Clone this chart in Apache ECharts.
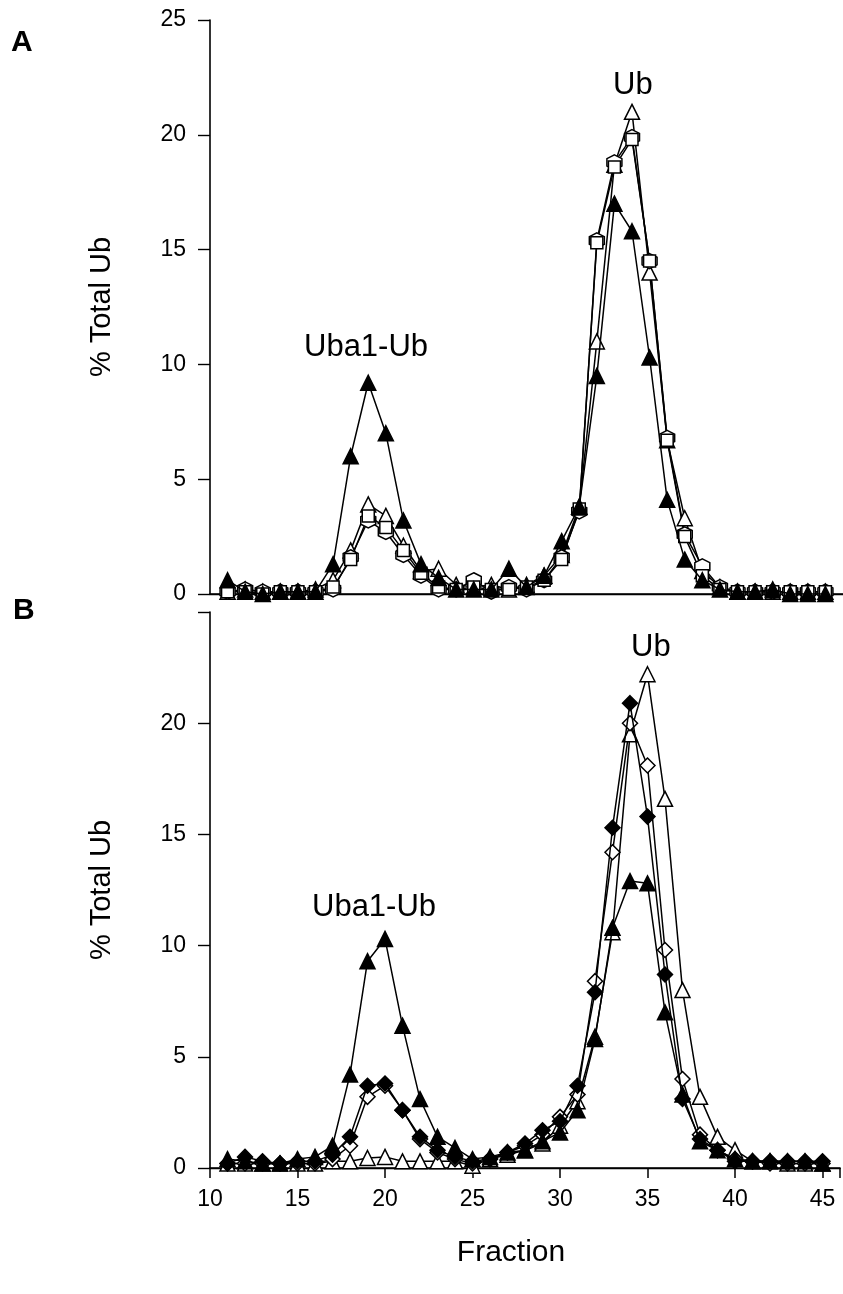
<!DOCTYPE html>
<html>
<head>
<meta charset="utf-8">
<script src="https://cdn.jsdelivr.net/npm/echarts@6/dist/echarts.min.js"></script>
<style>
  html, body { margin: 0; padding: 0; background: #fff; }
  #chart { width: 843px; height: 1294px; }
</style>
</head>
<body>
<div id="chart"></div>
<script>
// fractions 11..45
const fractions = [11,12,13,14,15,16,17,18,19,20,21,22,23,24,25,26,27,28,29,30,31,32,33,34,35,36,37,38,39,40,41,42,43,44,45]
const yTicks = [0, 5, 10, 15, 20, 25]

// panel A
const aFilledTri = [0.6,0.1,0.0,0.1,0.1,0.1,1.3,6.0,9.2,7.0,3.2,1.3,0.7,0.2,0.2,0.2,1.1,0.3,0.8,2.3,3.8,9.5,17.0,15.8,10.3,4.1,1.5,0.6,0.2,0.1,0.1,0.2,0.0,0.0,0.0]
const aOpenTri   = [0.1,0.2,0.1,0.1,0.1,0.2,0.6,1.9,3.9,3.4,2.1,1.0,1.1,0.4,0.3,0.4,0.2,0.4,0.8,1.7,3.8,11.0,18.7,21.0,14.0,6.7,3.3,1.0,0.3,0.1,0.1,0.1,0.1,0.1,0.1]
const aHexagon   = [0.1,0.2,0.1,0.1,0.1,0.1,0.2,1.6,3.2,2.7,1.7,0.8,0.2,0.2,0.6,0.1,0.3,0.2,0.6,1.6,3.6,15.4,18.8,19.9,14.5,6.8,2.6,1.2,0.3,0.1,0.1,0.1,0.1,0.1,0.1]
const aSquare    = [0.1,0.1,0.0,0.1,0.1,0.1,0.3,1.5,3.4,2.9,1.9,0.9,0.3,0.2,0.3,0.2,0.2,0.3,0.6,1.5,3.7,15.3,18.6,19.8,14.5,6.7,2.5,0.8,0.2,0.1,0.1,0.1,0.1,0.1,0.1]

// panel B
const bFilledTri = [0.4,0.3,0.2,0.2,0.4,0.5,1.0,4.2,9.3,10.3,6.4,3.1,1.4,0.9,0.4,0.5,0.7,0.8,1.2,1.6,2.6,5.8,10.8,12.9,12.8,7.0,3.3,1.2,0.8,0.4,0.3,0.3,0.3,0.3,0.2]
const bOpenTri   = [0.2,0.2,0.2,0.2,0.2,0.2,0.3,0.3,0.45,0.5,0.3,0.3,0.3,0.3,0.1,0.4,0.6,0.8,1.1,1.9,3.0,5.9,10.6,19.5,22.2,16.6,8.0,3.2,1.4,0.8,0.3,0.3,0.2,0.2,0.2]
const bFilledDia = [0.2,0.5,0.3,0.2,0.3,0.3,0.6,1.4,3.7,3.8,2.6,1.4,0.8,0.5,0.3,0.4,0.7,1.1,1.7,2.1,3.7,7.9,15.3,20.9,15.8,8.7,3.1,1.3,0.8,0.3,0.3,0.3,0.3,0.3,0.3]
const bOpenDia   = [0.2,0.2,0.2,0.2,0.2,0.2,0.4,1.0,3.2,3.7,2.6,1.3,0.7,0.4,0.2,0.4,0.7,1.0,1.5,2.3,3.3,8.4,14.2,20.0,18.1,9.8,4.0,1.5,0.8,0.4,0.3,0.2,0.2,0.2,0.2]

const FONT = 'Liberation Sans, Arial, Helvetica, sans-serif'
const hexagon = 'path://M0,-1 L0.866,-0.5 L0.866,0.5 L0,1 L-0.866,0.5 L-0.866,-0.5 Z'

const pairs = arr => fractions.map((f, i) => [f, arr[i]])

function line(name, data, grid, symbol, filled, size) {
  return {
    name, type: 'line', xAxisIndex: grid * 2, yAxisIndex: grid,
    data: pairs(data), symbol, symbolSize: size || 15,
    showSymbol: true, animation: false,
    lineStyle: { color: '#000', width: 1.5 },
    itemStyle: { color: filled ? '#000' : '#fff', borderColor: '#000', borderWidth: 1.5 },
    z: filled ? 3 : 2
  }
}

function xAxisPair(grid, withLabels) {
  return [
    {
      type: 'value', gridIndex: grid, min: 10, max: 46, interval: 5,
      position: 'bottom',
      axisLine: { show: true, onZero: false, lineStyle: { color: '#000', width: 1.6 } },
      axisTick: { show: withLabels, length: 10, lineStyle: { color: '#000', width: 1.5 } },
      axisLabel: {
        show: withLabels, color: '#000', fontSize: 23, fontFamily: FONT, margin: 20,
        formatter: v => (v <= 45 ? String(v) : '')
      },
      splitLine: { show: false },
      name: withLabels ? 'Fraction' : '', nameLocation: 'middle', nameGap: 70,
      nameTextStyle: { color: '#000', fontSize: 30, fontFamily: FONT, padding: [0, 28, 0, 0] }
    },
    {
      type: 'value', gridIndex: grid, min: 10, max: 46, position: 'top',
      axisLine: { show: true, lineStyle: { color: '#000', width: 1.3 } },
      axisTick: { show: false }, axisLabel: { show: false }, splitLine: { show: false }
    }
  ]
}

function yAxis(grid, hideTop) {
  return {
    type: 'value', gridIndex: grid, min: 0, max: 25, interval: 5,
    axisLine: { show: true, lineStyle: { color: '#000', width: 1.6 } },
    axisTick: { show: true, length: 12, lineStyle: { color: '#000', width: 1.4 } },
    axisLabel: {
      color: '#000', fontSize: 23, fontFamily: FONT, margin: 24,
      formatter: v => (hideTop && v === 25 ? '' : String(v))
    },
    splitLine: { show: false },
    name: '% Total Ub', nameLocation: 'middle', nameGap: 94,
    nameTextStyle: { color: '#000', fontSize: 29, fontFamily: FONT }
  }
}

const chart = echarts.init(document.getElementById('chart'))
chart.setOption({
  backgroundColor: '#fff',
  animation: false,
  grid: [
    { left: 210, top: 20, width: 633, height: 574 },
    { left: 210, top: 612, width: 633, height: 556 }
  ],
  xAxis: [...xAxisPair(0, false), ...xAxisPair(1, true)],
  yAxis: [yAxis(0, false), yAxis(1, true)],
  series: [
    line('A open triangle', aOpenTri, 0, 'triangle', false),
    line('A hexagon', aHexagon, 0, hexagon, false),
    line('A square', aSquare, 0, 'rect', false, 12),
    line('A filled triangle', aFilledTri, 0, 'triangle', true),
    line('B open triangle', bOpenTri, 1, 'triangle', false),
    line('B open diamond', bOpenDia, 1, 'diamond', false),
    line('B filled diamond', bFilledDia, 1, 'diamond', true),
    line('B filled triangle', bFilledTri, 1, 'triangle', true)
  ],
  graphic: [
    { type: 'text', left: 11, top: 28, style: { text: 'A', font: 'bold 30px ' + FONT, fill: '#000' } },
    { type: 'text', left: 13, top: 596, style: { text: 'B', font: 'bold 30px ' + FONT, fill: '#000' } },
    { type: 'text', left: 613, top: 70, style: { text: 'Ub', font: '31px ' + FONT, fill: '#000' } },
    { type: 'text', left: 304, top: 332, style: { text: 'Uba1-Ub', font: '31px ' + FONT, fill: '#000' } },
    { type: 'text', left: 631, top: 632, style: { text: 'Ub', font: '31px ' + FONT, fill: '#000' } },
    { type: 'text', left: 312, top: 892, style: { text: 'Uba1-Ub', font: '31px ' + FONT, fill: '#000' } }
  ]
})
</script>
</body>
</html>
